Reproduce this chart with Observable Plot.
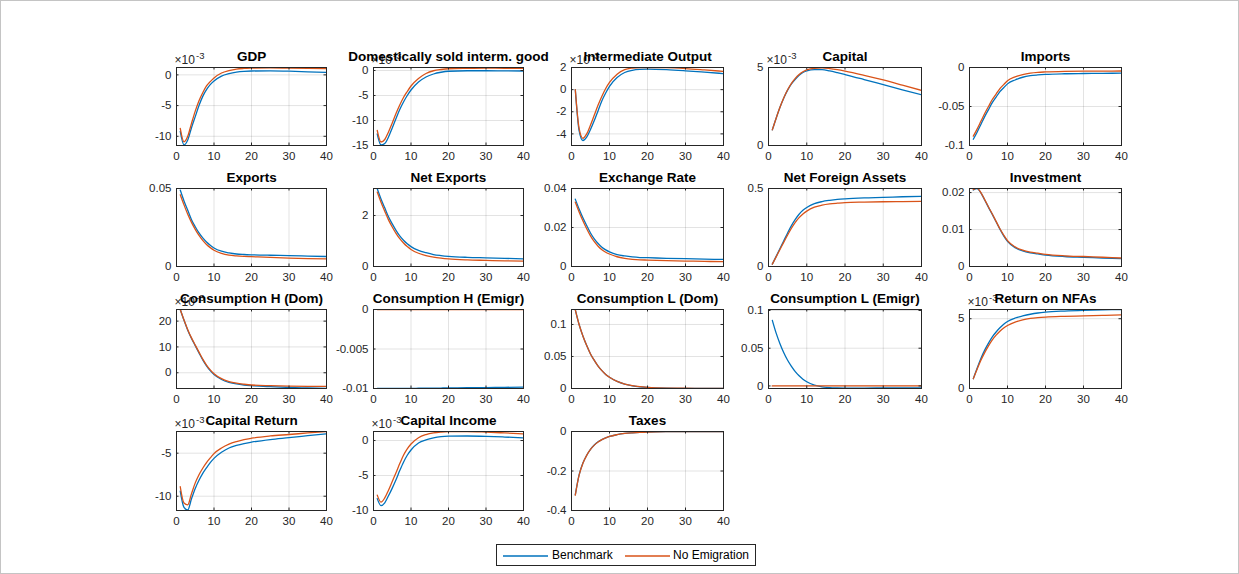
<!DOCTYPE html>
<html><head><meta charset="utf-8">
<script src="https://cdn.jsdelivr.net/npm/d3@7"></script>
<script src="https://cdn.jsdelivr.net/npm/@observablehq/plot@0.6"></script>
<style>
body{margin:0;background:#fff;}
#fig{position:relative;width:1239px;height:574px;box-sizing:border-box;border:1px solid #c4c4c4;background:#fff;font-family:"Liberation Sans",Arial,Helvetica,sans-serif;overflow:hidden;}
.panel{position:absolute;}
#legend{position:absolute;left:495px;top:543px;width:260px;height:22px;box-sizing:border-box;border:1px solid #262626;background:#fff;font-size:12px;color:#000;}
#legend span{position:absolute;top:3px;}
#legend svg{position:absolute;top:0;left:0;}
</style></head><body><div id="fig"></div>
<script>
// ---- data ----
const periods = [1,2,3,4,5,6,7,8,9,10,12,14,16,18,20,25,30,35,40];
const xTicks = [0,10,20,30,40];
const seriesNames = ["Benchmark","No Emigration"];

const titles = ["GDP","Domestically sold interm. good","Intermediate Output","Capital","Imports",
  "Exports","Net Exports","Exchange Rate","Net Foreign Assets","Investment",
  "Consumption H (Dom)","Consumption H (Emigr)","Consumption L (Dom)","Consumption L (Emigr)","Return on NFAs",
  "Capital Return","Capital Income","Taxes"];
const exponents = [-3,-3,-3,-3,null, null,null,null,null,null, -3,null,null,null,-3, -3,-3,null];
const yTicks = [[-10,-5,0],[-15,-10,-5,0],[-4,-2,0,2],[0,5],[-0.1,-0.05,0],
  [0,0.05],[0,2],[0,0.02,0.04],[0,0.5],[0,0.01,0.02],
  [0,10,20],[-0.01,-0.005,0],[0,0.05,0.1],[0,0.05,0.1],[0,5],
  [-10,-5],[-10,-5,0],[-0.4,-0.2,0]];
const yDomains = [[-11.5,1.2],[-15,0.6],[-5.05,2],[0,5],[-0.1,0],
  [0,0.05],[0,3.06],[0,0.04],[0,0.5],[0,0.0211],
  [-6.1,24.5],[-0.01,0],[0,0.1234],[-0.0034,0.1013],[0,5.66],
  [-11.66,-2.48],[-10,1.29],[-0.4,0]];

const gdpBenchmark = [-9.2,-11.4,-10.6,-8.6,-6.8,-5.0,-3.5,-2.4,-1.6,-1.0,-0.2,0.2,0.45,0.58,0.63,0.65,0.6,0.5,0.4];
const gdpNoEmigration = [-8.7,-10.9,-10.0,-7.9,-5.9,-4.2,-2.9,-1.8,-1.1,-0.5,0.3,0.7,0.95,1.05,1.1,1.15,1.1,1.05,1.0];
const domBenchmark = [-12.7,-14.9,-14.6,-13.3,-11.5,-9.6,-7.8,-6.3,-5.0,-3.9,-2.3,-1.3,-0.7,-0.35,-0.15,-0.05,-0.05,-0.08,-0.1];
const domNoEmigration = [-12.0,-14.3,-13.8,-12.3,-10.5,-8.6,-6.9,-5.4,-4.2,-3.1,-1.6,-0.6,-0.05,0.2,0.35,0.45,0.5,0.45,0.45];
const intBenchmark = [0,-3.7,-4.6,-4.3,-3.6,-2.8,-1.9,-1.0,-0.3,0.3,1.1,1.55,1.75,1.83,1.85,1.8,1.7,1.58,1.45];
const intNoEmigration = [0,-3.5,-4.4,-4.0,-3.2,-2.3,-1.4,-0.6,0.1,0.65,1.4,1.8,1.95,2.0,2.0,1.98,1.9,1.78,1.65];
const capBenchmark = [1.0,1.75,2.45,3.05,3.55,3.95,4.25,4.5,4.68,4.78,4.87,4.86,4.78,4.67,4.55,4.23,3.9,3.57,3.25];
const capNoEmigration = [1.0,1.75,2.45,3.06,3.57,3.98,4.3,4.55,4.73,4.85,4.95,4.97,4.93,4.86,4.77,4.5,4.2,3.87,3.53];
const impBenchmark = [-0.092,-0.083,-0.073,-0.063,-0.054,-0.045,-0.038,-0.031,-0.026,-0.021,-0.016,-0.0125,-0.0105,-0.0095,-0.0088,-0.008,-0.0077,-0.0075,-0.0073];
const impNoEmigration = [-0.088,-0.079,-0.069,-0.059,-0.050,-0.041,-0.034,-0.027,-0.022,-0.017,-0.012,-0.009,-0.0072,-0.0062,-0.0057,-0.005,-0.0047,-0.0046,-0.0045];
const expBenchmark = [0.049,0.042,0.036,0.030,0.0255,0.0215,0.0183,0.0157,0.0136,0.0119,0.0098,0.0087,0.0080,0.0077,0.0075,0.0072,0.0070,0.0067,0.0064];
const expNoEmigration = [0.046,0.0395,0.0335,0.0283,0.0238,0.0199,0.0167,0.0141,0.0121,0.0104,0.0084,0.0073,0.0068,0.0065,0.0063,0.0058,0.0054,0.0051,0.0049];
const nxBenchmark = [3.05,2.65,2.3,1.95,1.67,1.42,1.2,1.03,0.89,0.78,0.63,0.54,0.47,0.43,0.40,0.36,0.34,0.32,0.30];
const nxNoEmigration = [2.92,2.52,2.17,1.83,1.55,1.3,1.09,0.92,0.78,0.67,0.52,0.43,0.37,0.33,0.30,0.26,0.24,0.22,0.21];
const erBenchmark = [0.0345,0.0295,0.025,0.021,0.0172,0.0142,0.0118,0.0099,0.0085,0.0075,0.0061,0.0054,0.0049,0.0046,0.0045,0.0042,0.0040,0.0038,0.0036];
const erNoEmigration = [0.033,0.028,0.0235,0.0194,0.0157,0.0127,0.0104,0.0086,0.0073,0.0064,0.005,0.0042,0.0037,0.0034,0.0033,0.003,0.0028,0.0026,0.0025];
const nfaBenchmark = [0.015,0.065,0.115,0.165,0.215,0.262,0.302,0.335,0.36,0.378,0.403,0.416,0.424,0.43,0.434,0.44,0.443,0.447,0.45];
const nfaNoEmigration = [0.015,0.062,0.109,0.156,0.202,0.245,0.283,0.313,0.337,0.355,0.38,0.393,0.401,0.406,0.41,0.413,0.415,0.416,0.417];
const invBenchmark = [0.0207,0.0211,0.0199,0.0180,0.0160,0.0141,0.0121,0.0101,0.0083,0.0068,0.0051,0.0042,0.0037,0.0034,0.0031,0.0027,0.0025,0.0023,0.0021];
const invNoEmigration = [0.0208,0.0212,0.0200,0.0181,0.0161,0.0142,0.0122,0.0102,0.0085,0.0070,0.0053,0.0044,0.0039,0.0036,0.0033,0.0029,0.0027,0.0025,0.0023];
const chdBenchmark = [24.5,20.3,16.5,13.3,10.5,7.7,5.0,2.7,0.8,-0.7,-2.6,-3.7,-4.35,-4.75,-5.0,-5.4,-5.7,-5.9,-6.1];
const chdNoEmigration = [24.5,20.4,16.7,13.5,10.7,8.0,5.3,3.0,1.1,-0.4,-2.3,-3.4,-4.05,-4.45,-4.75,-5.0,-5.15,-5.25,-5.3];
const cheBenchmark = [-0.01,-0.01,-0.01,-0.01,-0.01,-0.01,-0.00999,-0.00999,-0.00998,-0.00998,-0.00997,-0.00996,-0.00995,-0.00994,-0.00993,-0.0099,-0.00988,-0.00985,-0.00983];
const cheNoEmigration = [0,0,0,0,0,0,0,0,0,0,0,0,0,0,0,0,0,0,0];
const cldBenchmark = [0.123,0.100,0.082,0.067,0.054,0.044,0.035,0.028,0.022,0.0175,0.011,0.0068,0.0042,0.0026,0.0016,0.0005,0.0002,0.0001,0.0];
const cldNoEmigration = [0.123,0.100,0.082,0.067,0.054,0.044,0.035,0.028,0.022,0.0176,0.0111,0.007,0.0044,0.0028,0.0018,0.0007,0.0004,0.0003,0.0002];
const cleBenchmark = [0.087,0.07,0.056,0.044,0.034,0.026,0.019,0.0135,0.009,0.0055,0.001,-0.0012,-0.0022,-0.0026,-0.0028,-0.0028,-0.0027,-0.0026,-0.0025];
const cleNoEmigration = [0,0,0,0,0,0,0,0,0,0,0,0,0,0,0,0,0,0,0];
const rnfaBenchmark = [0.7,1.45,2.15,2.75,3.25,3.7,4.05,4.35,4.6,4.8,5.05,5.2,5.32,5.41,5.47,5.55,5.6,5.63,5.66];
const rnfaNoEmigration = [0.7,1.38,2.02,2.57,3.05,3.48,3.82,4.1,4.33,4.51,4.76,4.92,5.02,5.08,5.12,5.17,5.2,5.24,5.27];
const crBenchmark = [-9.4,-11.3,-11.6,-10.3,-9.1,-8.15,-7.35,-6.7,-6.1,-5.6,-4.9,-4.4,-4.1,-3.88,-3.72,-3.42,-3.2,-2.97,-2.74];
const crNoEmigration = [-8.9,-10.8,-11.0,-9.7,-8.45,-7.5,-6.75,-6.1,-5.55,-5.05,-4.4,-3.95,-3.65,-3.42,-3.26,-3.0,-2.83,-2.65,-2.48];
const ciBenchmark = [-8.3,-9.3,-8.9,-7.9,-6.8,-5.6,-4.3,-3.1,-2.1,-1.35,-0.35,0.1,0.38,0.55,0.62,0.65,0.6,0.5,0.38];
const ciNoEmigration = [-7.8,-8.8,-8.2,-7.1,-5.85,-4.6,-3.3,-2.1,-1.2,-0.5,0.4,0.85,1.1,1.22,1.28,1.28,1.2,1.08,0.95];
const taxBenchmark = [-0.32,-0.22,-0.16,-0.12,-0.09,-0.068,-0.052,-0.041,-0.032,-0.025,-0.016,-0.01,-0.0065,-0.004,-0.0025,-0.0008,-0.0003,-0.0001,0];
const taxNoEmigration = [-0.322,-0.221,-0.161,-0.121,-0.091,-0.069,-0.053,-0.041,-0.032,-0.025,-0.016,-0.01,-0.0065,-0.004,-0.0025,-0.0008,-0.0003,-0.0001,0];

const benchmarkSeries = [gdpBenchmark,domBenchmark,intBenchmark,capBenchmark,impBenchmark,
  expBenchmark,nxBenchmark,erBenchmark,nfaBenchmark,invBenchmark,
  chdBenchmark,cheBenchmark,cldBenchmark,cleBenchmark,rnfaBenchmark,
  crBenchmark,ciBenchmark,taxBenchmark];
const noEmigrationSeries = [gdpNoEmigration,domNoEmigration,intNoEmigration,capNoEmigration,impNoEmigration,
  expNoEmigration,nxNoEmigration,erNoEmigration,nfaNoEmigration,invNoEmigration,
  chdNoEmigration,cheNoEmigration,cldNoEmigration,cleNoEmigration,rnfaNoEmigration,
  crNoEmigration,ciNoEmigration,taxNoEmigration];

// ---- layout ----
const colLeft = [176,373,571,768,969];
const colWidth = [150,150,152,153,152];
const rowTop = [67,188,309,431];
const rowHeight = [78,78,79,79];
const M = {top:32, right:40, bottom:26, left:50};
const BLUE = "#0072BD", ORANGE = "#D95319", AX = "#262626";
const FONT = '"Liberation Sans", Arial, Helvetica, sans-serif';

const fig = document.getElementById("fig");
titles.forEach((title, i) => {
  const c = i % 5, r = Math.floor(i / 5);
  const w = colWidth[c], h = rowHeight[r];
  const ticks = yTicks[i];
  const bench = periods.map((t, j) => ({t, v: benchmarkSeries[i][j]}));
  const noem = periods.map((t, j) => ({t, v: noEmigrationSeries[i][j]}));
  const fmt = d => String(d);
  const marks = [
    Plot.gridX(xTicks, {stroke: AX, strokeOpacity: 0.13}),
    Plot.gridY(ticks, {stroke: AX, strokeOpacity: 0.13}),
    Plot.line(bench, {x: "t", y: "v", stroke: BLUE, strokeWidth: 1.3, curve: "monotone-x", clip: true}),
    Plot.line(noem, {x: "t", y: "v", stroke: ORANGE, strokeWidth: 1.3, curve: "monotone-x", clip: true}),
    Plot.tickX(xTicks, {x: d => d, insetTop: h - 2.5, stroke: AX}),
    Plot.tickX(xTicks, {x: d => d, insetBottom: h - 2.5, stroke: AX}),
    Plot.tickY(ticks, {y: d => d, insetRight: w - 2.5, stroke: AX}),
    Plot.tickY(ticks, {y: d => d, insetLeft: w - 2.5, stroke: AX}),
    Plot.frame({stroke: AX, strokeWidth: 1}),
    Plot.axisX(xTicks, {tickSize: 0, tickPadding: 6, tickFormat: fmt, label: null, fontSize: 11.5, fill: AX}),
    Plot.axisY(ticks, {tickSize: 0, tickPadding: 5, tickFormat: fmt, label: null, fontSize: 11.5, fill: AX})
  ];
  if (exponents[i] != null) {
    marks.push(Plot.text(["×10"], {text: d => d, frameAnchor: "top-left", dx: -2, dy: -7, textAnchor: "start", lineAnchor: "middle", fontSize: 12, fill: AX}));
    marks.push(Plot.text([String(exponents[i])], {text: d => d, frameAnchor: "top-left", dx: 19.5, dy: -12, textAnchor: "start", lineAnchor: "middle", fontSize: 9.5, fill: AX}));
  }
  marks.push(Plot.text([title], {text: d => d, frameAnchor: "top", dy: -10.5, lineAnchor: "middle", fontWeight: "bold", fontSize: 13.5, fill: "#000"}));
  const chart = Plot.plot({
    width: w + M.left + M.right, height: h + M.top + M.bottom,
    marginTop: M.top, marginRight: M.right, marginBottom: M.bottom, marginLeft: M.left,
    style: {background: "none", overflow: "visible", fontFamily: FONT, fontSize: "11.5px", color: AX},
    x: {domain: [0, 40], label: null},
    y: {domain: yDomains[i], label: null},
    marks
  });
  chart.classList.add("panel");
  chart.style.left = (colLeft[c] - M.left - 1) + "px";
  chart.style.top = (rowTop[r] - M.top - 1) + "px";
  fig.appendChild(chart);
});

// ---- legend ----
const legend = document.createElement("div");
legend.id = "legend";
legend.innerHTML = `<svg width="260" height="22"><line x1="6" x2="51" y1="11" y2="11" stroke="${BLUE}" stroke-width="1.3"/><line x1="128" x2="173" y1="11" y2="11" stroke="${ORANGE}" stroke-width="1.3"/></svg>` +
  `<span style="left:55px">${seriesNames[0]}</span><span style="left:176px">${seriesNames[1]}</span>`;
fig.appendChild(legend);
</script></body></html>
